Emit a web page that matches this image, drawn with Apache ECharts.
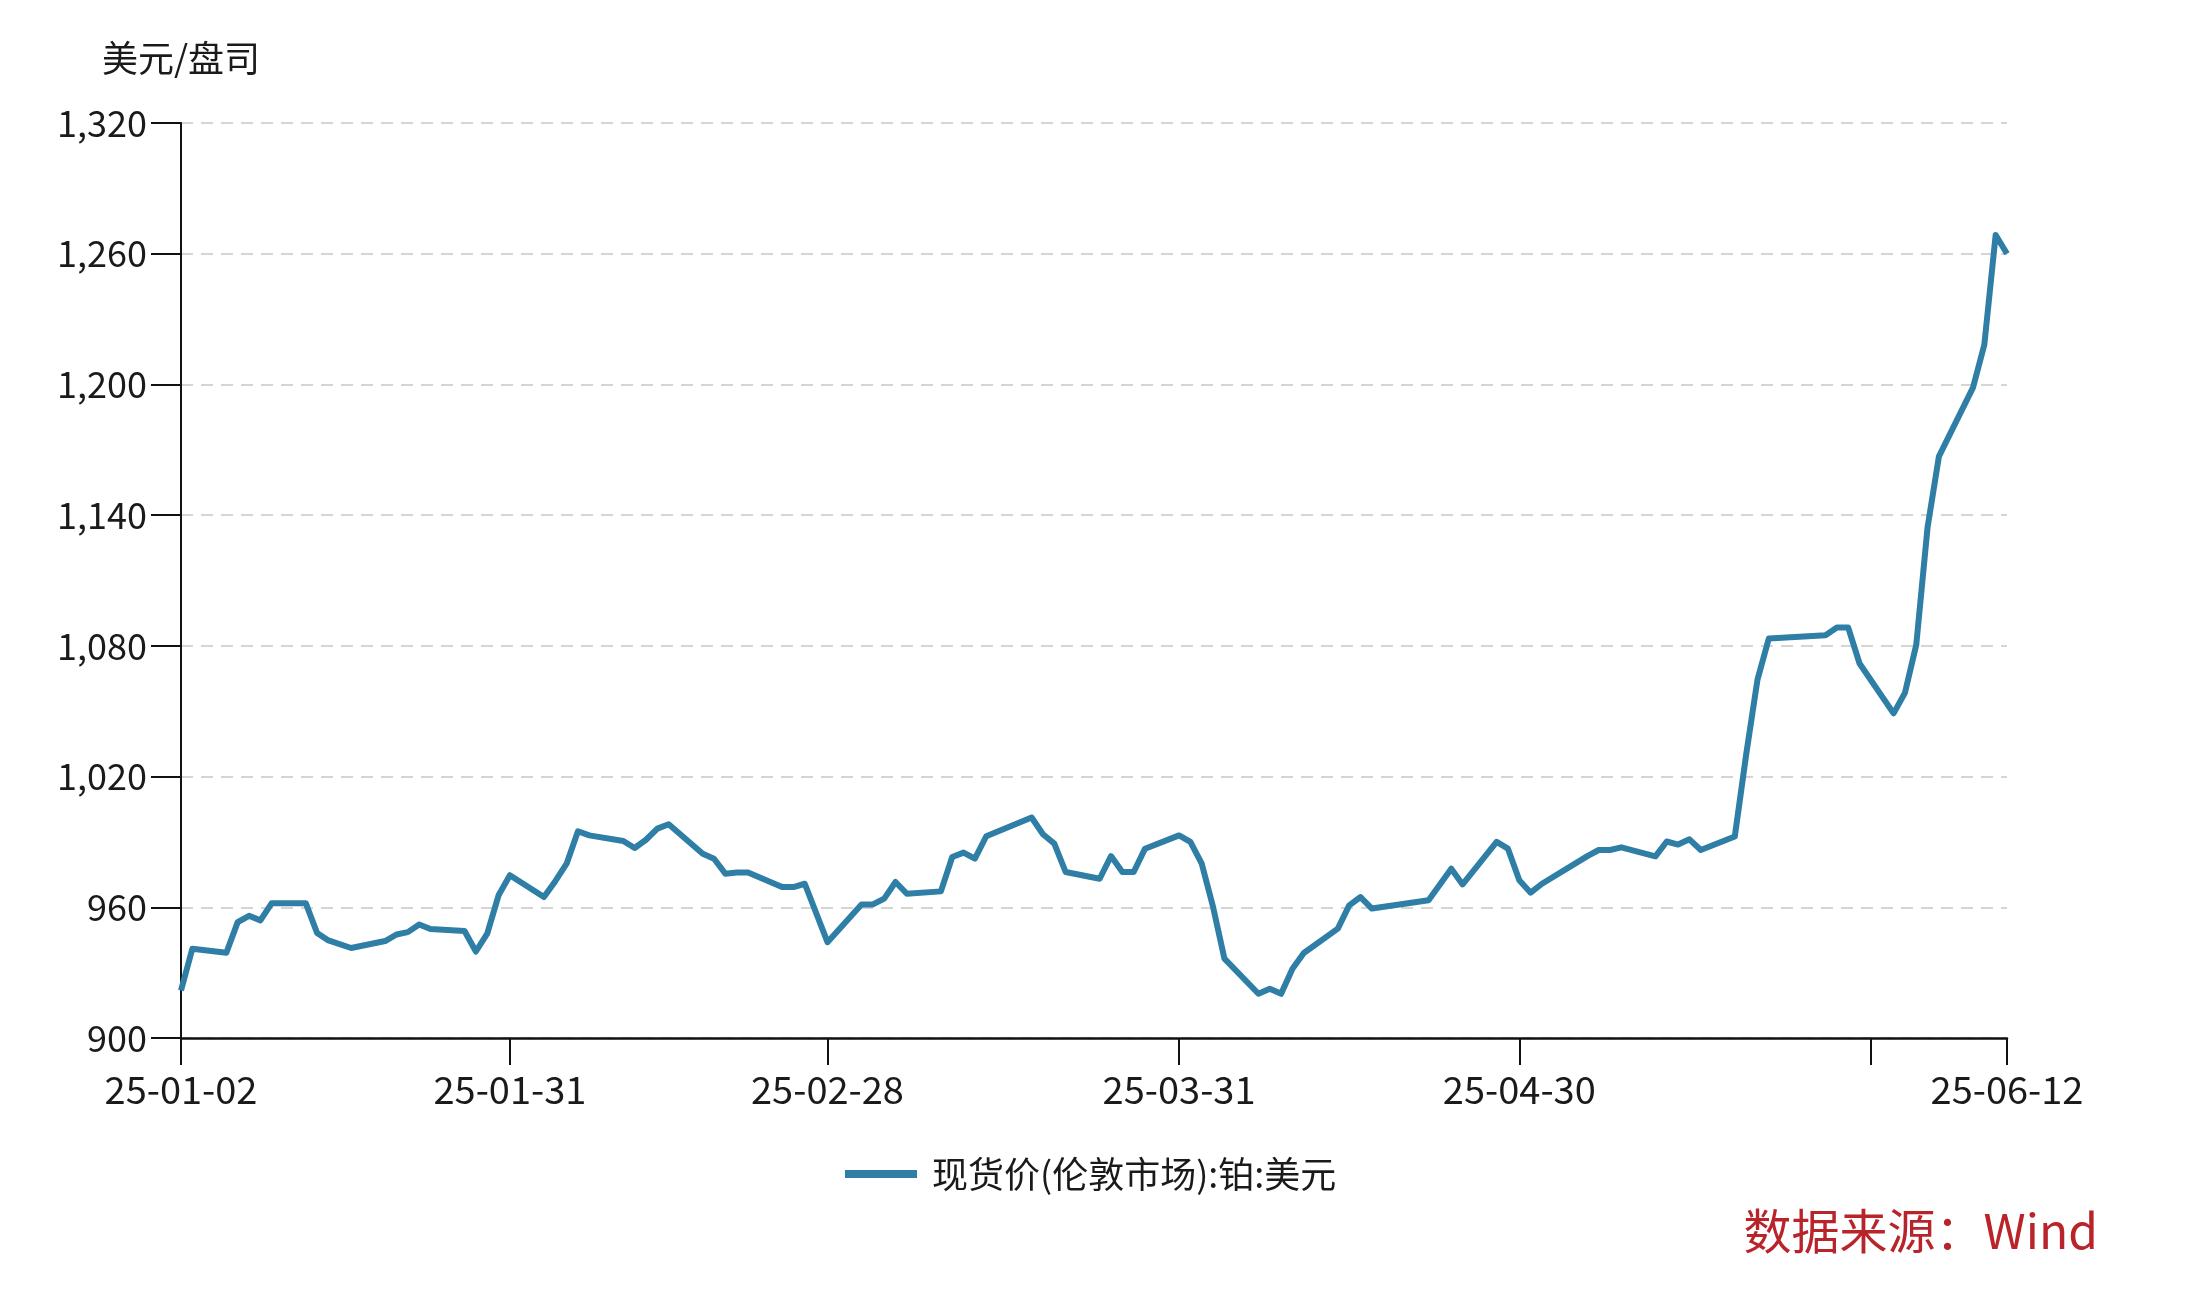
<!DOCTYPE html>
<html>
<head>
    <meta charset="UTF-8"/>
    <script src="https://cdn.jsdelivr.net/npm/echarts@6/dist/echarts.min.js"></script>
    <style>
        body { margin: 0; background: #fff; }
        #main { width: 2186px; height: 1298px; }
    </style>
</head>
<body>
<div id="main"></div>
<script type="text/javascript">
    // 现货价(伦敦市场):铂 —— 读图所得的交易日数据
    var dates = [
        '2025-01-02', '2025-01-03', '2025-01-06', '2025-01-07', '2025-01-08', '2025-01-09', '2025-01-10',
        '2025-01-13', '2025-01-14', '2025-01-15', '2025-01-17', '2025-01-20', '2025-01-21', '2025-01-22',
        '2025-01-23', '2025-01-24', '2025-01-27', '2025-01-28', '2025-01-29', '2025-01-30', '2025-01-31',
        '2025-02-03', '2025-02-04', '2025-02-05', '2025-02-06', '2025-02-07', '2025-02-10', '2025-02-11',
        '2025-02-12', '2025-02-13', '2025-02-14', '2025-02-17', '2025-02-18', '2025-02-19', '2025-02-20',
        '2025-02-21', '2025-02-24', '2025-02-25', '2025-02-26', '2025-02-28',
        '2025-03-03', '2025-03-04', '2025-03-05', '2025-03-06', '2025-03-07', '2025-03-10', '2025-03-11',
        '2025-03-12', '2025-03-13', '2025-03-14', '2025-03-18', '2025-03-19', '2025-03-20', '2025-03-21',
        '2025-03-24', '2025-03-25', '2025-03-26', '2025-03-27', '2025-03-28', '2025-03-31',
        '2025-04-01', '2025-04-02', '2025-04-03', '2025-04-04', '2025-04-07', '2025-04-08', '2025-04-09',
        '2025-04-10', '2025-04-11', '2025-04-14', '2025-04-15', '2025-04-16', '2025-04-17', '2025-04-22',
        '2025-04-24', '2025-04-25', '2025-04-28', '2025-04-29', '2025-04-30',
        '2025-05-01', '2025-05-02', '2025-05-06', '2025-05-07', '2025-05-08', '2025-05-09', '2025-05-12',
        '2025-05-13', '2025-05-14', '2025-05-15', '2025-05-16', '2025-05-19', '2025-05-20', '2025-05-21',
        '2025-05-22', '2025-05-27', '2025-05-28', '2025-05-29', '2025-05-30',
        '2025-06-02', '2025-06-03', '2025-06-04', '2025-06-05', '2025-06-06', '2025-06-09', '2025-06-10',
        '2025-06-11', '2025-06-12'
    ];
    var prices = [
        921.8, 941.0, 939.1, 953.2, 956.1, 954.0, 961.9,
        961.9, 948.2, 944.8, 941.3, 944.5, 947.5, 948.6,
        952.1, 950.0, 949.1, 939.7, 947.9, 965.5, 974.7,
        964.7, 972.0, 980.0, 994.9, 993.0, 990.4, 987.2,
        991.0, 996.1, 998.1, 984.6, 982.3, 975.4, 976.0,
        976.0, 969.3, 969.3, 970.8, 944.0,
        961.3, 961.3, 964.0, 971.6, 966.2, 967.3, 983.1,
        985.1, 982.3, 992.6, 1001.2, 993.5, 989.2, 976.2,
        973.1, 983.5, 976.2, 976.2, 986.9, 993.0,
        990.0, 980.0, 960.1, 936.4, 920.3, 922.6, 920.3,
        931.8, 939.0, 950.2, 960.9, 964.7, 959.4, 963.2,
        977.7, 970.5, 990.0, 986.9, 972.4,
        966.7, 970.8, 983.5, 986.3, 986.3, 987.5, 983.4,
        990.2, 988.8, 991.2, 986.3, 992.5, 1030.0, 1064.5,
        1083.4, 1084.9, 1088.4, 1088.4, 1071.9,
        1049.0, 1058.4, 1080.5, 1134.6, 1167.0, 1198.5, 1218.2,
        1268.6, 1260.0
    ];
    // 坐标轴刻度
    var tickDates = ['2025-01-02', '2025-01-31', '2025-02-28', '2025-03-31', '2025-04-30', '2025-05-31', '2025-06-12'];
    var labelDates = ['2025-01-02', '2025-01-31', '2025-02-28', '2025-03-31', '2025-04-30', '2025-06-12'];
    var yMin = 900, yMax = 1320, yStep = 60;
    var seriesName = '现货价(伦敦市场):铂:美元';
    var unitName = '美元/盘司';
    var sourceText = '数据来源：Wind';

    function ts(s) {
        var p = s.split('-');
        return Date.UTC(+p[0], +p[1] - 1, +p[2]);
    }
    function pad(n) { return n < 10 ? '0' + n : '' + n; }
    function fmtDate(v) {
        var d = new Date(v);
        return pad(d.getUTCFullYear() % 100) + '-' + pad(d.getUTCMonth() + 1) + '-' + pad(d.getUTCDate());
    }

    var sdata = [];
    for (var i = 0; i < dates.length; i++) {
        sdata.push([ts(dates[i]), prices[i]]);
    }

    var FONT = 'Noto Sans CJK SC';
    var lineColor = '#2E7EA6';

    var myChart = echarts.init(document.getElementById('main'));
    var option = {
        backgroundColor: '#ffffff',
        animation: false,
        textStyle: {fontFamily: FONT},
        grid: {
            left: 181,
            right: 179,
            top: 123,
            bottom: 260
        },
        legend: {
            data: [seriesName],
            left: 840,
            top: 1151,
            icon: 'rect',
            itemWidth: 72,
            itemHeight: 8,
            textStyle: {
                fontFamily: FONT,
                fontSize: 36,
                color: '#1a1a1a',
                padding: [0, 0, 0, 10]
            }
        },
        xAxis: {
            // 日期按时间戳放在数值轴上
            type: 'value',
            min: ts('2025-01-02'),
            max: ts('2025-06-12'),
            axisLine: {lineStyle: {color: '#111', width: 2.5}},
            axisTick: {
                show: true,
                length: 27,
                lineStyle: {color: '#111', width: 2},
                customValues: tickDates.map(ts)
            },
            axisLabel: {
                fontFamily: FONT,
                fontSize: 38,
                color: '#1a1a1a',
                margin: 33,
                customValues: labelDates.map(ts),
                formatter: function (v) { return fmtDate(v); }
            },
            splitLine: {show: false}
        },
        yAxis: {
            type: 'value',
            min: yMin,
            max: yMax,
            interval: yStep,
            axisLine: {show: true, lineStyle: {color: '#111', width: 2}},
            axisTick: {show: true, length: 30, lineStyle: {color: '#111', width: 2}},
            axisLabel: {
                fontFamily: FONT,
                fontSize: 36,
                color: '#1a1a1a',
                margin: 34,
                formatter: function (v) {
                    return String(v).replace(/\B(?=(\d{3})+(?!\d))/g, ',');
                }
            },
            splitLine: {
                show: true,
                lineStyle: {color: '#c8c8c8', type: [12, 8], width: 1.5}
            }
        },
        graphic: [
            {
                type: 'text',
                left: 102,
                top: 40,
                style: {
                    text: unitName,
                    font: '36px "' + FONT + '"',
                    fill: '#1a1a1a'
                }
            },
            {
                type: 'text',
                right: 88,
                top: 1207,
                style: {
                    text: sourceText,
                    font: '48px "' + FONT + '"',
                    fill: '#B8242A'
                }
            }
        ],
        series: [
            {
                name: seriesName,
                type: 'line',
                data: sdata,
                showSymbol: false,
                symbol: 'none',
                smooth: false,
                lineStyle: {color: lineColor, width: 6, join: 'round'},
                itemStyle: {color: lineColor}
            }
        ]
    };
    myChart.setOption(option);
</script>
</body>
</html>
